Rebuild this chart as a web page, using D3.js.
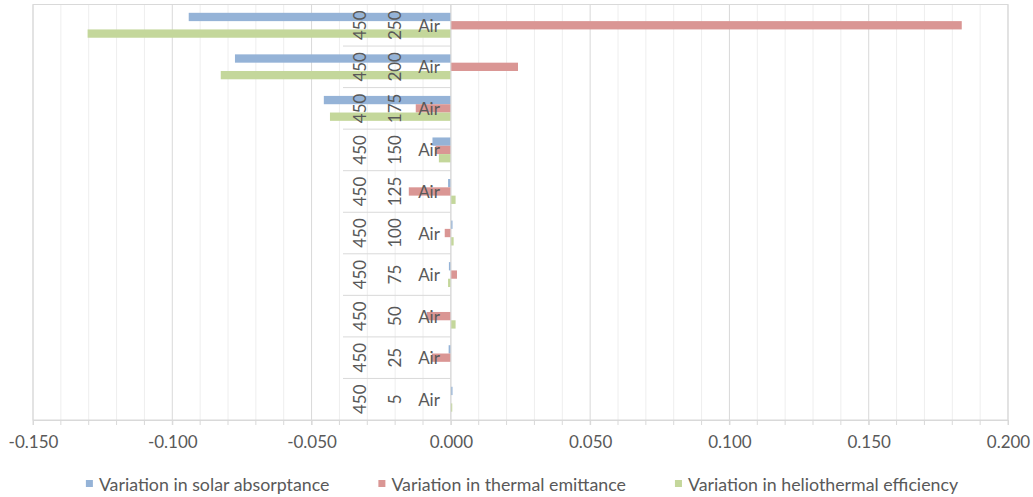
<!DOCTYPE html>
<html><head><meta charset="utf-8">
<script src="https://cdn.jsdelivr.net/npm/d3@7"></script>
<style>body{margin:0;background:#fff}svg{display:block;font-family:Lato,"Open Sans",sans-serif}</style>
</head><body><svg id="c" width="1033" height="497"></svg>
<script>
// Categories (bottom to top)
const categories = ["5","25","50","75","100","125","150","175","200","250"];
const outerLabels = ["450","450","450","450","450","450","450","450","450","450"];
const innerLabels = ["Air","Air","Air","Air","Air","Air","Air","Air","Air","Air"];
const seriesNames = ["Variation in solar absorptance","Variation in thermal emittance","Variation in heliothermal efficiency"];
const solar   = [0.0006,-0.0008, 0.0000,-0.0007, 0.0006,-0.0010,-0.0066,-0.0456,-0.0775,-0.0941];
const thermal = [0.0000,-0.0068,-0.0087, 0.0022,-0.0022,-0.0151,-0.0055,-0.0126, 0.0241, 0.1834];
const helio   = [0.0005, 0.0000, 0.0017,-0.0010, 0.0010, 0.0017,-0.0043,-0.0434,-0.0826,-0.1304];
const xTicks = [-0.15,-0.1,-0.05,0,0.05,0.1,0.15,0.2];
const colors = ["#95B3D7","#DA9694","#C4D79B"];

const svg = d3.select("#c");
const L=33, R=1008, T=4.5, B=420;
const x = d3.scaleLinear().domain([-0.15,0.2]).range([L,R]);
const y = d3.scaleBand().domain(categories.slice().reverse()).range([T,B]).padding(0);
const inner = d3.scaleBand().domain([0,1,2]).range([0,y.bandwidth()]).paddingInner(0).paddingOuter(1);
const textCol="#595959", major="#d9d9d9", minor="#eeeeee";

// minor gridlines
const minorVals = d3.range(-150,201,10).map(v=>v/1000);
svg.append("g").selectAll("line").data(minorVals.filter(v=>!xTicks.some(t=>Math.abs(t-v)<1e-9)))
  .join("line").attr("x1",d=>x(d)).attr("x2",d=>x(d)).attr("y1",T).attr("y2",B)
  .attr("stroke",minor).attr("stroke-width",1);
svg.append("g").selectAll("line").data(xTicks)
  .join("line").attr("x1",d=>x(d)).attr("x2",d=>x(d)).attr("y1",T).attr("y2",B)
  .attr("stroke",major).attr("stroke-width",1);
// border
svg.append("rect").attr("x",L).attr("y",T).attr("width",R-L).attr("height",B-T)
  .attr("fill","none").attr("stroke",major);

// bars
const series=[solar,thermal,helio];
series.forEach((vals,si)=>{
  svg.append("g").selectAll("rect").data(vals).join("rect")
    .attr("x",d=>x(Math.min(0,d))).attr("width",d=>Math.abs(x(d)-x(0)))
    .attr("y",(d,i)=>y(categories[i])+inner(si)).attr("height",inner.bandwidth())
    .attr("fill",colors[si]);
});

// category axis line at zero
svg.append("line").attr("x1",x(0)).attr("x2",x(0)).attr("y1",T).attr("y2",B).attr("stroke",major);
// category separators
const bounds = categories.map(c=>y(c));
svg.append("g").selectAll("line").data(bounds).join("line")
  .attr("x1",343).attr("x2",x(0)).attr("y1",d=>d).attr("y2",d=>d).attr("stroke",major);
// category labels
const lab = svg.append("g").attr("fill",textCol).style("font-size","17px");
categories.forEach((c,i)=>{
  const cy = y(c)+y.bandwidth()/2;
  lab.append("text").attr("x",429).attr("y",cy).attr("text-anchor","middle")
    .attr("dominant-baseline","central").text(innerLabels[i]);
  lab.append("text").attr("transform",`translate(394,${cy}) rotate(-90)`).attr("text-anchor","middle")
    .attr("dominant-baseline","central").text(c);
  lab.append("text").attr("transform",`translate(359,${cy}) rotate(-90)`).attr("text-anchor","middle")
    .attr("dominant-baseline","central").text(outerLabels[i]);
});

// x axis
const fmt = d3.format(".3f");
const ax = svg.append("g").attr("transform",`translate(0,${B})`)
  .call(d3.axisBottom(x).tickValues(xTicks).tickFormat(d=>fmt(d).replace("\u2212","-")).tickSize(5).tickPadding(11));
ax.select(".domain").attr("stroke",major);
ax.selectAll(".tick line").attr("stroke",major);
ax.selectAll("text").attr("fill",textCol).style("font-size","17px").style("font-family","Lato");
svg.append("g").selectAll("line").data(minorVals).join("line")
  .attr("x1",d=>x(d)).attr("x2",d=>x(d)).attr("y1",B).attr("y2",B+5).attr("stroke",major);

// legend
const lg = svg.append("g").style("font-size","17.8px").attr("fill",textCol);
const items = seriesNames.map((n,i)=>{
  const g = lg.append("g");
  g.append("rect").attr("width",7).attr("height",7).attr("y",-4).attr("fill",colors[i]);
  const t = g.append("text").attr("x",13).attr("dominant-baseline","central").text(n);
  return {g,w:13+t.node().getComputedTextLength()};
});
const gap=49; const total=d3.sum(items,d=>d.w)+gap*(items.length-1);
let cx = 522-total/2;
items.forEach(it=>{ it.g.attr("transform",`translate(${cx},484)`); cx+=it.w+gap; });
</script></body></html>
